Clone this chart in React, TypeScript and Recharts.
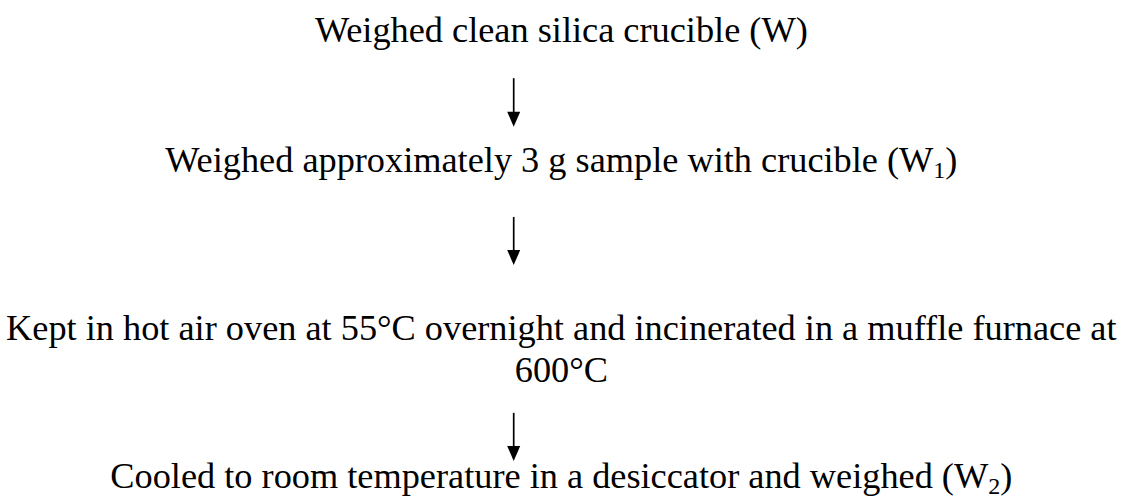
import React from 'react';
import { ScatterChart, Scatter, XAxis, YAxis, ReferenceLine } from 'recharts';

type Seg = { t: string; sub?: boolean };

// Flow steps (each step = list of lines, each line = text segments)
const stepLines: Seg[][][] = [
  [[{ t: 'Weighed clean silica crucible (W)' }]],
  [[{ t: 'Weighed approximately 3 g sample with crucible (W' }, { t: '1', sub: true }, { t: ')' }]],
  [
    [{ t: 'Kept in hot air oven at 55°C overnight and incinerated in a muffle furnace at' }],
    [{ t: '600°C' }],
  ],
  [[{ t: 'Cooled to room temperature in a desiccator and weighed (W' }, { t: '2', sub: true }, { t: ')' }]],
];

// Vertical level of each step's first baseline (0 = top, 100 = bottom of page)
const stepLevels = [8.4, 34.3, 67.9, 97.5];
// Horizontal centre of the step text (0..100)
const stepCenter = 49.5;

// Arrows between steps: horizontal position and vertical start/end levels
const arrowX = 45.3;
const arrowStarts = [15.6, 43.3, 82.4];
const arrowEnds = [25.3, 52.9, 92.0];

const W = 1134;
const H = 501;
const FONT = "'Liberation Serif', 'Times New Roman', Times, serif";
const FONT_SIZE = 36.3;
const LINE_H = 42;

const stepData = stepLines.map((lines, i) => ({ x: stepCenter, y: stepLevels[i], lines }));

const StepText = (props: any) => {
  const { cx, cy, payload } = props;
  if (cx == null || cy == null) return null;
  const lines: Seg[][] = payload.lines;
  return (
    <text x={cx} y={cy} textAnchor="middle" fontFamily={FONT} fontSize={FONT_SIZE} fill="#000">
      {lines.map((line, li) => (
        <tspan key={li} x={cx} dy={li === 0 ? 0 : LINE_H}>
          {line.map((seg, si) => {
            const prevSub = si > 0 && line[si - 1].sub;
            if (seg.sub) {
              return (
                <tspan key={si} dy={6} fontSize={24}>
                  {seg.t}
                </tspan>
              );
            }
            return (
              <tspan key={si} dy={prevSub ? -6 : undefined}>
                {seg.t}
              </tspan>
            );
          })}
        </tspan>
      ))}
    </text>
  );
};

const ArrowShape = (props: any) => {
  const { x1, y1, x2, y2 } = props;
  if ([x1, y1, x2, y2].some((v) => v == null || Number.isNaN(v))) return null;
  const head = 15;
  const half = 6.5;
  return (
    <g>
      <line x1={x1} y1={y1} x2={x2} y2={y2 - head + 1} stroke="#000" strokeWidth={1.7} />
      <polygon points={`${x2 - half},${y2 - head} ${x2 + half},${y2 - head} ${x2},${y2}`} fill="#000" />
    </g>
  );
};

export default function App() {
  return (
    <div style={{ position: 'fixed', left: 0, top: 0, width: W, height: H, background: '#fff' }}>
      <ScatterChart width={W} height={H} margin={{ top: 0, right: 0, bottom: 0, left: 0 }}>
        <XAxis type="number" dataKey="x" domain={[0, 100]} hide />
        <YAxis type="number" dataKey="y" domain={[0, 100]} reversed hide />
        {arrowStarts.map((s, i) => (
          <ReferenceLine
            key={i}
            segment={[
              { x: arrowX, y: s },
              { x: arrowX, y: arrowEnds[i] },
            ]}
            ifOverflow="visible"
            shape={ArrowShape}
          />
        ))}
        <Scatter data={stepData} shape={StepText} isAnimationActive={false} />
      </ScatterChart>
    </div>
  );
}
